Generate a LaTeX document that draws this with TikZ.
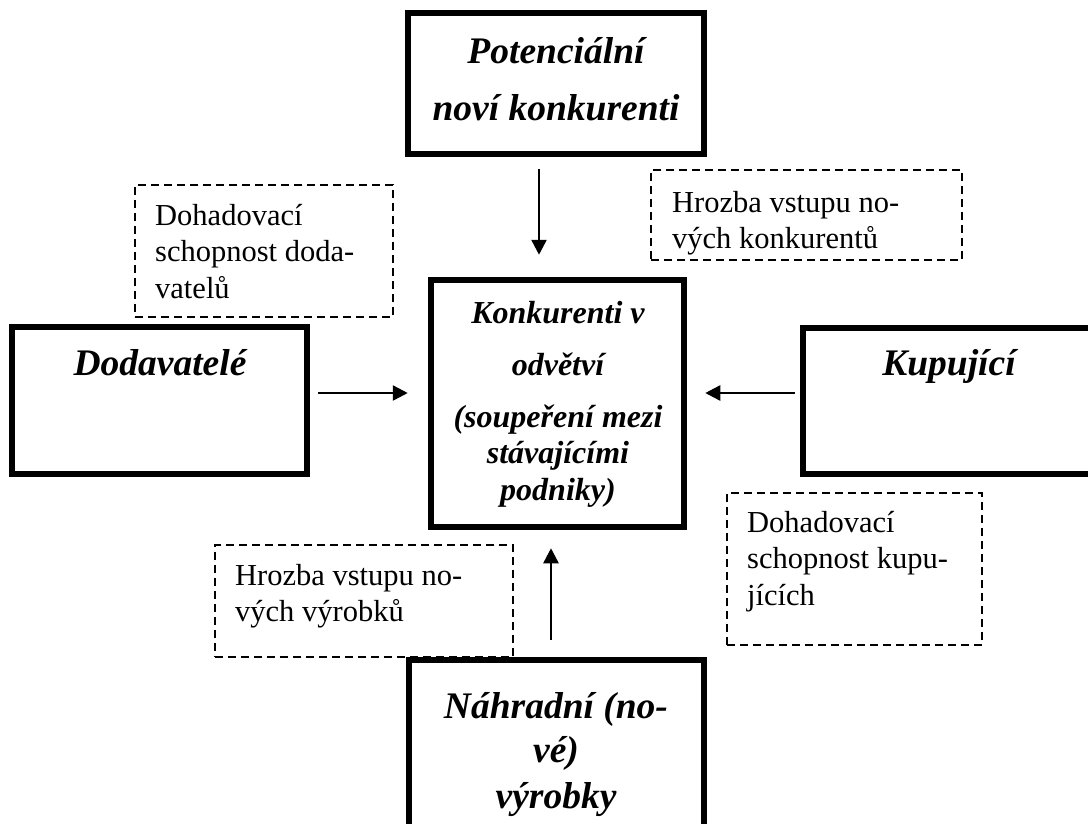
\documentclass[tikz,border=0pt]{standalone}
\usepackage{fontspec}
\setmainfont{Liberation Serif}
\usetikzlibrary{arrows.meta}
\tikzset{
  x=1pt, y=-1pt,
  bigbox/.style={draw=black, line width=6.5pt, fill=white, inner sep=0pt, rectangle},
  notebox/.style={draw=black, line width=2pt, dash pattern=on 8pt off 5pt, inner sep=0pt, rectangle},
  arr/.style={line width=2.5pt, -{Triangle[length=15pt,width=15pt]}},
  bigtext/.style={inner sep=0pt, anchor=base, font=\fontsize{37.5}{57}\selectfont\bfseries\itshape},
  midtext/.style={inner sep=0pt, anchor=base, font=\fontsize{32}{36.5}\selectfont\bfseries\itshape},
  notetext/.style={inner sep=0pt, anchor=base west, font=\fontsize{30.5}{36.5}\selectfont},
}
\begin{document}
\begin{tikzpicture}
\useasboundingbox (0,0) rectangle (1088,823);
\clip (0,0) rectangle (1088,823);
\fill[white] (0,0) rectangle (1088,823);

% thick boxes
\node[bigbox, minimum width=296pt, minimum height=141pt] (top) at (556,83.5) {};
\node[bigbox, minimum width=253pt, minimum height=247pt] (mid) at (557.5,403.5) {};
\node[bigbox, minimum width=295pt, minimum height=147pt] (left) at (159.5,400.5) {};
\node[bigbox, minimum width=292pt, minimum height=146pt] (right) at (949,401) {};
\node[bigbox, minimum width=295pt, minimum height=240pt] (bottom) at (556.5,780) {};

% dashed boxes
\node[notebox, minimum width=258pt, minimum height=132pt] (nsup) at (264,251) {};
\node[notebox, minimum width=311pt, minimum height=90pt] (nnew) at (806.5,215) {};
\node[notebox, minimum width=298pt, minimum height=112pt] (nsub) at (364,601) {};
\node[notebox, minimum width=255pt, minimum height=152pt] (nbuy) at (854.5,569) {};

% texts in thick boxes
\node[bigtext] (ttop) at (556,63) {\begin{tabular}[t]{@{}c@{}}Potenciální\\noví konkurenti\end{tabular}};
\node[bigtext] (tleft) at (160,375) {Dodavatelé};
\node[bigtext] (tright) at (949,375) {Kupující};
\node[bigtext, font=\fontsize{37.5}{44}\selectfont\bfseries\itshape] (tbottom) at (556,718) {\begin{tabular}[t]{@{}c@{}}Náhradní (no-\\vé)\\[2pt]výrobky\end{tabular}};
\node[midtext] (tmid) at (558,323) {\begin{tabular}[t]{@{}c@{}}Konkurenti v\\[15.5pt]odvětví\\[15.5pt](soupeření mezi\\stávajícími\\podniky)\end{tabular}};

% texts in dashed boxes
\node[notetext] (tsup) at (155,225) {\begin{tabular}[t]{@{}l@{}}Dohadovací\\schopnost doda-\\vatelů\end{tabular}};
\node[notetext] (tnew) at (672,212) {\begin{tabular}[t]{@{}l@{}}Hrozba vstupu no-\\vých konkurentů\end{tabular}};
\node[notetext] (tsub) at (235,585) {\begin{tabular}[t]{@{}l@{}}Hrozba vstupu no-\\vých výrobků\end{tabular}};
\node[notetext] (tbuy) at (747,532) {\begin{tabular}[t]{@{}l@{}}Dohadovací\\schopnost kupu-\\jících\end{tabular}};

% arrows
\draw[arr] ([xshift=-17pt,yshift=-12pt]top.south) -- ([xshift=-18.5pt,yshift=22pt]mid.north);
\draw[arr] ([xshift=8pt,yshift=7.5pt]left.east) -- ([xshift=-20pt,yshift=10.5pt]mid.west);
\draw[arr] ([xshift=-5pt,yshift=8pt]right.west) -- ([xshift=18pt,yshift=10.5pt]mid.east);
\draw[arr] ([xshift=-5.5pt,yshift=17pt]bottom.north) -- ([xshift=-6.5pt,yshift=-18pt]mid.south);
\end{tikzpicture}
\end{document}
